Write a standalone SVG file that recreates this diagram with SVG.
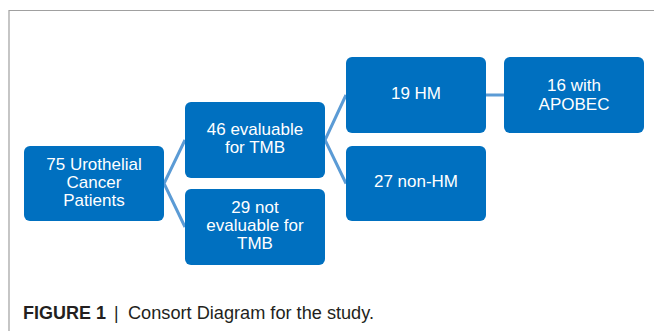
<svg xmlns="http://www.w3.org/2000/svg" width="654" height="331" viewBox="0 0 654 331">
<style>
.box{fill:#0070c0;}
.lbl{font-family:"Liberation Sans",Arial,sans-serif;font-size:17px;fill:#ffffff;text-anchor:middle;}
.conn{stroke:#5b9bd5;stroke-width:3;fill:none;}
.frame{stroke:#a0a0a0;stroke-width:1.2;fill:none;}
.cap{font-family:"Liberation Sans",Arial,sans-serif;font-size:17.5px;fill:#231f20;}
</style>
<rect width="654" height="331" fill="#ffffff"/>
<path class="frame" d="M9 331 V10.5 H654"/>
<g id="connectors">
<polyline class="conn" points="185,140 164,183.5 185,227"/>
<polyline class="conn" points="346,95 325,140 346,183.5"/>
<line class="conn" x1="486" y1="95" x2="504" y2="95"/>
</g>
<g id="node-root">
<rect class="box" x="24" y="146" width="140" height="75" rx="6"/>
<text class="lbl" x="94" y="170">75 Urothelial</text>
<text class="lbl" x="94" y="188">Cancer</text>
<text class="lbl" x="94" y="206">Patients</text>
</g>
<g id="node-eval">
<rect class="box" x="185" y="102" width="140" height="76" rx="6"/>
<text class="lbl" x="255" y="135">46 evaluable</text>
<text class="lbl" x="255" y="153">for TMB</text>
</g>
<g id="node-noteval">
<rect class="box" x="185" y="189" width="140" height="76" rx="6"/>
<text class="lbl" x="255" y="213">29 not</text>
<text class="lbl" x="255" y="231">evaluable for</text>
<text class="lbl" x="255" y="249">TMB</text>
</g>
<g id="node-hm">
<rect class="box" x="346" y="57" width="140" height="76" rx="6"/>
<text class="lbl" x="416" y="99">19 HM</text>
</g>
<g id="node-nonhm">
<rect class="box" x="346" y="146" width="140" height="75" rx="6"/>
<text class="lbl" x="416" y="187">27 non-HM</text>
</g>
<g id="node-apobec">
<rect class="box" x="504" y="57" width="140" height="76" rx="6"/>
<text class="lbl" x="574" y="91">16 with</text>
<text class="lbl" x="574" y="110">APOBEC</text>
</g>
<g id="caption">
<text class="cap" x="23" y="319" font-weight="bold" textLength="83" lengthAdjust="spacingAndGlyphs">FIGURE 1</text>
<text class="cap" x="114" y="319" fill="#555">|</text>
<text class="cap" x="128" y="319" textLength="246" lengthAdjust="spacingAndGlyphs">Consort Diagram for the study.</text>
</g>
</svg>
